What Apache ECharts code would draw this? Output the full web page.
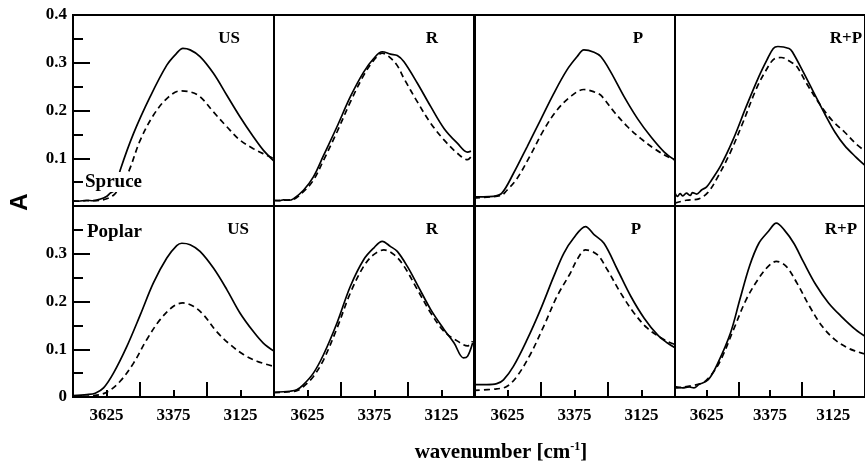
<!DOCTYPE html>
<html>
<head>
<meta charset="utf-8">
<script src="https://cdn.jsdelivr.net/npm/echarts@6/dist/echarts.min.js"></script>
<style>
  html, body { margin: 0; padding: 0; background: #fff; }
  #chart { width: 865px; height: 464px; }
</style>
</head>
<body>
<div id="chart"></div>
<script>
// Panel layout: rows are wood species, columns are treatments
const species = ['Spruce', 'Poplar'];
const treatments = ['US', 'R', 'P', 'R+P'];

// Axis ticks
const xTickLabels = [3625, 3375, 3125];
const yLabelsTop = [0.1, 0.2, 0.3, 0.4];
const yLabelsBottom = [0, 0.1, 0.2, 0.3];

// OH-stretching band absorbance, [wavenumber (cm-1), A]
// Spruce
const spruceUS_solid = [[3750,0.011],[3730,0.010],[3700,0.012],[3675,0.011],[3650,0.014],[3625,0.020],[3611,0.027],[3598,0.032],[3585,0.050],[3574,0.075],[3524,0.152],[3462,0.229],[3400,0.295],[3363,0.320],[3340,0.330],[3313,0.327],[3276,0.313],[3226,0.278],[3176,0.232],[3127,0.187],[3077,0.145],[3040,0.117],[3000,0.094]];
const spruceUS_dash = [[3750,0.010],[3700,0.011],[3650,0.012],[3600,0.022],[3570,0.045],[3543,0.071],[3499,0.138],[3450,0.190],[3400,0.225],[3350,0.241],[3313,0.239],[3276,0.229],[3226,0.197],[3176,0.166],[3127,0.138],[3077,0.120],[3027,0.106],[3000,0.099]];
const spruceR_solid = [[3750,0.012],[3730,0.011],[3715,0.013],[3695,0.012],[3678,0.015],[3640,0.033],[3603,0.061],[3565,0.106],[3515,0.166],[3465,0.229],[3415,0.281],[3378,0.309],[3346,0.323],[3315,0.318],[3290,0.315],[3265,0.302],[3215,0.257],[3165,0.208],[3115,0.162],[3065,0.131],[3028,0.113],[3015,0.115]];
const spruceR_dash = [[3750,0.011],[3715,0.012],[3678,0.014],[3640,0.030],[3603,0.054],[3565,0.096],[3515,0.155],[3465,0.218],[3415,0.274],[3378,0.305],[3346,0.320],[3321,0.313],[3290,0.294],[3265,0.267],[3215,0.218],[3165,0.173],[3115,0.138],[3065,0.110],[3028,0.097],[3015,0.103]];
const spruceP_solid = [[3750,0.019],[3715,0.019],[3678,0.020],[3646,0.027],[3603,0.068],[3552,0.124],[3502,0.180],[3452,0.236],[3403,0.285],[3365,0.313],[3340,0.327],[3302,0.322],[3277,0.313],[3240,0.281],[3190,0.229],[3140,0.183],[3090,0.145],[3040,0.113],[3002,0.097]];
const spruceP_dash = [[3750,0.017],[3650,0.022],[3627,0.033],[3590,0.057],[3540,0.106],[3490,0.159],[3440,0.201],[3390,0.229],[3340,0.244],[3302,0.239],[3277,0.232],[3227,0.197],[3177,0.166],[3127,0.141],[3077,0.120],[3027,0.103],[3002,0.097]];
const spruceRP_solid = [[3750,0.027],[3740,0.020],[3730,0.026],[3719,0.021],[3705,0.027],[3690,0.022],[3681,0.028],[3665,0.025],[3644,0.034],[3625,0.040],[3606,0.054],[3569,0.085],[3519,0.141],[3469,0.208],[3419,0.271],[3387,0.306],[3362,0.330],[3344,0.334],[3300,0.330],[3287,0.323],[3244,0.281],[3194,0.229],[3156,0.190],[3119,0.155],[3081,0.127],[3037,0.103],[3000,0.085]];
const spruceRP_dash = [[3750,0.006],[3706,0.012],[3656,0.015],[3619,0.029],[3581,0.061],[3531,0.113],[3481,0.176],[3431,0.243],[3394,0.281],[3356,0.309],[3331,0.311],[3294,0.302],[3269,0.292],[3231,0.257],[3181,0.215],[3131,0.180],[3081,0.155],[3037,0.131],[3000,0.115]];
// Poplar
const poplarUS_solid = [[3750,0.003],[3698,0.005],[3667,0.008],[3636,0.019],[3599,0.050],[3549,0.106],[3499,0.172],[3450,0.239],[3400,0.291],[3363,0.317],[3344,0.322],[3313,0.319],[3276,0.305],[3226,0.270],[3176,0.225],[3127,0.176],[3077,0.137],[3040,0.113],[3000,0.096]];
const poplarUS_dash = [[3750,0.001],[3673,0.003],[3624,0.010],[3574,0.033],[3524,0.071],[3475,0.120],[3425,0.162],[3375,0.190],[3340,0.197],[3301,0.190],[3263,0.172],[3214,0.137],[3164,0.110],[3114,0.089],[3064,0.075],[3000,0.064]];
const poplarR_solid = [[3750,0.010],[3690,0.012],[3665,0.015],[3640,0.026],[3603,0.050],[3565,0.089],[3515,0.155],[3465,0.232],[3415,0.288],[3378,0.312],[3346,0.326],[3315,0.315],[3290,0.305],[3253,0.274],[3215,0.235],[3165,0.183],[3115,0.141],[3078,0.113],[3043,0.082],[3028,0.085],[3009,0.113]];
const poplarR_dash = [[3750,0.009],[3690,0.011],[3665,0.013],[3640,0.022],[3603,0.043],[3565,0.078],[3515,0.144],[3465,0.218],[3415,0.274],[3378,0.298],[3340,0.308],[3302,0.298],[3265,0.274],[3215,0.225],[3165,0.176],[3115,0.137],[3065,0.117],[3028,0.107],[3009,0.117]];
const poplarP_solid = [[3750,0.026],[3703,0.026],[3665,0.028],[3640,0.036],[3603,0.064],[3552,0.120],[3502,0.183],[3452,0.253],[3415,0.301],[3378,0.333],[3334,0.357],[3302,0.340],[3265,0.322],[3215,0.267],[3165,0.211],[3115,0.165],[3065,0.130],[3028,0.113],[3000,0.103]];
const poplarP_dash = [[3750,0.014],[3665,0.017],[3628,0.022],[3590,0.043],[3540,0.089],[3490,0.148],[3440,0.211],[3390,0.260],[3365,0.288],[3334,0.308],[3290,0.298],[3253,0.267],[3203,0.218],[3153,0.176],[3103,0.144],[3053,0.124],[3015,0.113],[3000,0.110]];
const poplarRP_solid = [[3750,0.022],[3720,0.019],[3694,0.021],[3675,0.019],[3656,0.026],[3619,0.036],[3581,0.071],[3531,0.134],[3494,0.204],[3456,0.274],[3419,0.322],[3381,0.347],[3350,0.364],[3319,0.350],[3281,0.322],[3244,0.284],[3194,0.235],[3144,0.197],[3094,0.169],[3037,0.141],[3000,0.127]];
const poplarRP_dash = [[3750,0.019],[3644,0.029],[3606,0.047],[3569,0.078],[3519,0.141],[3469,0.204],[3419,0.249],[3381,0.274],[3350,0.284],[3312,0.274],[3269,0.239],[3219,0.190],[3169,0.148],[3119,0.120],[3069,0.103],[3037,0.096],[3000,0.090]];

const solidCurves = [
  [spruceUS_solid, spruceR_solid, spruceP_solid, spruceRP_solid],
  [poplarUS_solid, poplarR_solid, poplarP_solid, poplarRP_solid]
];
const dashCurves = [
  [spruceUS_dash, spruceR_dash, spruceP_dash, spruceRP_dash],
  [poplarUS_dash, poplarR_dash, poplarP_dash, poplarRP_dash]
];

const SERIF = '"Liberation Serif", "Times New Roman", serif';
const INK = '#000';
const colLeft = [73, 274, 474, 675];
const rowTop = [15, 206];
const panelW = 201, panelH = 191;

const grids = [], xAxes = [], yAxes = [], series = [];
for (let r = 0; r < 2; r++) {
  for (let c = 0; c < 4; c++) {
    const idx = r * 4 + c;
    const bottomRow = r === 1;
    const firstCol = c === 0;
    grids.push({
      left: colLeft[c], top: rowTop[r], width: panelW, height: panelH,
      show: true, borderColor: INK, borderWidth: 2, backgroundColor: 'transparent'
    });
    xAxes.push({
      type: 'value', gridIndex: idx, min: 3000, max: 3750, interval: 250, inverse: true,
      axisLine: { show: true, lineStyle: { color: INK, width: 2 } },
      axisTick: { show: bottomRow, inside: true, length: 15, lineStyle: { color: INK, width: 2 } },
      minorTick: { show: bottomRow, splitNumber: 2, length: 7, lineStyle: { color: INK, width: 2 } },
      splitLine: { show: false }, minorSplitLine: { show: false },
      axisLabel: {
        show: bottomRow, customValues: xTickLabels, margin: 10,
        fontFamily: SERIF, fontWeight: 'bold', fontSize: 17, color: INK,
        formatter: v => String(v)
      }
    });
    yAxes.push({
      type: 'value', gridIndex: idx, min: 0, max: 0.4, interval: 0.1,
      axisLine: { show: true, lineStyle: { color: INK, width: 2 } },
      axisTick: { show: firstCol, inside: true, length: 17, lineStyle: { color: INK, width: 2 } },
      minorTick: { show: firstCol, splitNumber: 2, length: 10, lineStyle: { color: INK, width: 2 } },
      splitLine: { show: false }, minorSplitLine: { show: false },
      axisLabel: {
        show: firstCol, customValues: bottomRow ? yLabelsBottom : yLabelsTop, margin: 6,
        fontFamily: SERIF, fontWeight: 'bold', fontSize: 17, color: INK,
        formatter: v => (v === 0 ? '0' : v.toFixed(1))
      }
    });
    series.push({
      type: 'line', xAxisIndex: idx, yAxisIndex: idx, data: solidCurves[r][c],
      showSymbol: false, smooth: 0.35, clip: true, silent: true,
      lineStyle: { color: INK, width: 1.7, type: 'solid' }
    });
    series.push({
      type: 'line', xAxisIndex: idx, yAxisIndex: idx, data: dashCurves[r][c],
      showSymbol: false, smooth: 0.35, clip: true, silent: true,
      lineStyle: { color: INK, width: 1.7, type: [6, 4] }
    });
  }
}

// Treatment tags in the upper right of each panel
const tagPos = [
  [[229, 39], [432, 39], [638, 39], [846, 39]],
  [[238, 230], [432, 230], [636, 230], [841, 230]]
];
const graphics = [];
for (let r = 0; r < 2; r++) {
  for (let c = 0; c < 4; c++) {
    graphics.push({
      type: 'text', x: tagPos[r][c][0], y: tagPos[r][c][1], z: 100,
      style: { text: treatments[c], font: 'bold 17px ' + SERIF, fill: INK,
               textAlign: 'center', textVerticalAlign: 'middle' }
    });
  }
}
// Species names, on a white plate over the curves
graphics.push({
  type: 'text', x: 84, y: 182, z: 100,
  style: { text: species[0], font: 'bold 19px ' + SERIF, fill: INK, textAlign: 'left',
           textVerticalAlign: 'middle', backgroundColor: '#fff', padding: [1, 1, 0, 1] }
});
graphics.push({
  type: 'text', x: 86, y: 232, z: 100,
  style: { text: species[1], font: 'bold 19px ' + SERIF, fill: INK, textAlign: 'left',
           textVerticalAlign: 'middle', backgroundColor: '#fff', padding: [1, 1, 0, 1] }
});
// Axis titles
graphics.push({
  type: 'text', x: 20, y: 202, rotation: Math.PI / 2, z: 100,
  style: { text: 'A', font: 'bold 24px "Liberation Sans", Arial, sans-serif', fill: INK,
           textAlign: 'center', textVerticalAlign: 'middle' }
});
graphics.push({
  type: 'text', x: 501, y: 452, z: 100,
  style: {
    text: '{a|wavenumber [cm}{s|-1}{a|]}',
    textAlign: 'center', textVerticalAlign: 'middle', fill: INK,
    rich: {
      a: { font: 'bold 21px ' + SERIF, fill: INK, verticalAlign: 'bottom', lineHeight: 22 },
      s: { font: 'bold 12px ' + SERIF, fill: INK, verticalAlign: 'top', lineHeight: 22, padding: [0, 0, 8, 0] }
    }
  }
});

const chart = echarts.init(document.getElementById('chart'), null, { renderer: 'canvas' });
chart.setOption({
  animation: false,
  backgroundColor: '#fff',
  grid: grids,
  xAxis: xAxes,
  yAxis: yAxes,
  series: series,
  graphic: { elements: graphics }
});
</script>
</body>
</html>
